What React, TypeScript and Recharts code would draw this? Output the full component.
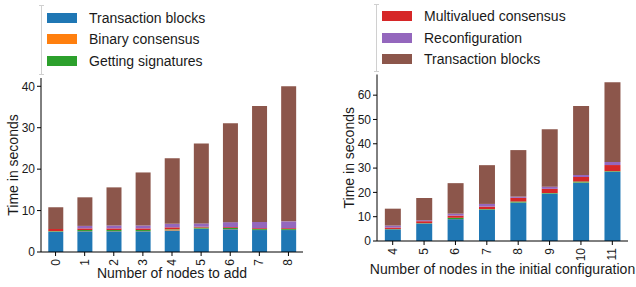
import { Bar, BarChart, Label, XAxis, YAxis } from "recharts";

// colours (matplotlib tab10)
const BLUE = "#1f77b4";
const ORANGE = "#ff7f0e";
const GREEN = "#2ca02c";
const RED = "#d62728";
const PURPLE = "#9467bd";
const BROWN = "#8c564b";

// left chart: adding nodes
const addCategories = ["0", "1", "2", "3", "4", "5", "6", "7", "8"];
const addTxBlocks = [4.9, 5.0, 5.0, 5.0, 5.2, 5.6, 5.5, 5.3, 5.3];
const addBinary = [0.05, 0.05, 0.05, 0.05, 0.2, 0.05, 0.05, 0.05, 0.05];
const addSignatures = [0.1, 0.25, 0.25, 0.25, 0.1, 0.25, 0.25, 0.2, 0.2];
const addMultivalued = [0.5, 0.4, 0.4, 0.4, 0.45, 0.2, 0.2, 0.2, 0.2];
const addReconfig = [0, 0.6, 0.7, 0.7, 0.85, 0.8, 1.2, 1.5, 1.65];
const addTxBlocksTop = [5.25, 6.9, 9.2, 12.8, 15.8, 19.3, 23.9, 28.0, 32.6];
const addTicks = [0, 10, 20, 30, 40];

// right chart: initial configuration size
const initCategories = ["4", "5", "6", "7", "8", "9", "10", "11"];
const initTxBlocks = [4.8, 7.2, 9.0, 12.9, 15.8, 19.5, 24.0, 28.5];
const initBinary = [0.05, 0.05, 0.05, 0.05, 0.05, 0.05, 0.05, 0.05];
const initSignatures = [0.1, 0.1, 0.5, 0.2, 0.4, 0.2, 0.4, 0.2];
const initMultivalued = [0.6, 0.8, 0.9, 1.0, 1.5, 1.7, 1.9, 2.5];
const initReconfig = [0.8, 0.4, 0.8, 1.1, 0.5, 0.9, 0.8, 1.3];
const initTxBlocksTop = [6.95, 9.15, 12.55, 15.95, 19.15, 23.65, 28.35, 32.75];
const initTicks = [0, 10, 20, 30, 40, 50, 60];

const leftLegend = [
  { name: "Transaction blocks", color: BLUE },
  { name: "Binary consensus", color: ORANGE },
  { name: "Getting signatures", color: GREEN },
];
const rightLegend = [
  { name: "Multivalued consensus", color: RED },
  { name: "Reconfiguration", color: PURPLE },
  { name: "Transaction blocks", color: BROWN },
];

const FONT = "'Liberation Sans', Arial, Helvetica, sans-serif";
const TEXT = "#1a1a1a";

const buildRows = (
  cats: string[],
  a: number[],
  b: number[],
  c: number[],
  d: number[],
  e: number[],
  f: number[],
) =>
  cats.map((label, i) => ({
    label,
    tx: a[i],
    binary: b[i],
    sigs: c[i],
    multi: d[i],
    reconfig: e[i],
    txTop: f[i],
  }));

const RotatedTick = (props: any) => {
  const { x, y, payload } = props;
  return (
    <text
      transform={`translate(${x},${y + 1}) rotate(-90)`}
      textAnchor="end"
      dominantBaseline="central"
      fontSize={12}
      fill={TEXT}
      fontFamily={FONT}
    >
      {payload.value}
    </text>
  );
};

const yLabel = (dx: number) => (props: any) => {
  const vb = props.viewBox;
  const cx = vb.x + dx;
  const cy = vb.y + vb.height / 2;
  return (
    <text
      x={cx}
      y={cy}
      transform={`rotate(-90, ${cx}, ${cy})`}
      textAnchor="middle"
      dominantBaseline="central"
      fontSize={14}
      fill={TEXT}
      fontFamily={FONT}
    >
      Time in seconds
    </text>
  );
};

const xLabel = (text: string, dy: number) => (props: any) => {
  const vb = props.viewBox;
  return (
    <text
      x={vb.x + vb.width / 2}
      y={vb.y + dy}
      textAnchor="middle"
      dominantBaseline="central"
      fontSize={14}
      fill={TEXT}
      fontFamily={FONT}
    >
      {text}
    </text>
  );
};

interface LegendItem {
  name: string;
  color: string;
}

const LegendBox = ({
  items,
  left,
  top,
  bracketX,
  bracketTop,
  bracketBottom,
}: {
  items: LegendItem[];
  left: number;
  top: number;
  bracketX: number;
  bracketTop: number;
  bracketBottom: number;
}) => (
  <>
    <div
      style={{
        position: "absolute",
        left: bracketX,
        top: bracketTop,
        width: 1,
        height: bracketBottom - bracketTop,
        background: "#d0d0d0",
      }}
    />
    <div style={{ position: "absolute", left: bracketX - 2, top: bracketTop, width: 5, height: 1, background: "#d0d0d0" }} />
    <div style={{ position: "absolute", left: bracketX - 2, top: bracketBottom, width: 5, height: 1, background: "#d0d0d0" }} />
    {items.map((item, i) => (
      <div
        key={item.name + i}
        style={{
          position: "absolute",
          left,
          top: top + i * 21.5 - 8,
          height: 16,
          display: "flex",
          alignItems: "center",
          whiteSpace: "nowrap",
        }}
      >
        <div style={{ width: 30, height: 10, background: item.color }} />
        <span style={{ marginLeft: 12, fontSize: 14, color: TEXT, fontFamily: FONT }}>
          {item.name}
        </span>
      </div>
    ))}
  </>
);

const StackBars = () => [
  <Bar key="tx" dataKey="tx" stackId="a" fill={BLUE} isAnimationActive={false} />,
  <Bar key="binary" dataKey="binary" stackId="a" fill={ORANGE} isAnimationActive={false} />,
  <Bar key="sigs" dataKey="sigs" stackId="a" fill={GREEN} isAnimationActive={false} />,
  <Bar key="multi" dataKey="multi" stackId="a" fill={RED} isAnimationActive={false} />,
  <Bar key="reconfig" dataKey="reconfig" stackId="a" fill={PURPLE} isAnimationActive={false} />,
  <Bar key="txTop" dataKey="txTop" stackId="a" fill={BROWN} isAnimationActive={false} />,
];

export default function App() {
  const leftRows = buildRows(addCategories, addTxBlocks, addBinary, addSignatures, addMultivalued, addReconfig, addTxBlocksTop);
  const rightRows = buildRows(initCategories, initTxBlocks, initBinary, initSignatures, initMultivalued, initReconfig, initTxBlocksTop);
  const tickStyle = { fontSize: 12, fill: TEXT, fontFamily: FONT };

  return (
    <div
      style={{
        position: "fixed",
        left: 0,
        top: 0,
        width: 636,
        height: 287,
        background: "#fff",
        overflow: "hidden",
        fontFamily: FONT,
      }}
    >
      <div style={{ position: "absolute", left: 0, top: 0 }}>
        <BarChart
          width={320}
          height={287}
          data={leftRows}
          margin={{ top: 78, right: 17, bottom: 0, left: 0 }}
          barCategoryGap="25%"
        >
          <XAxis
            dataKey="label"
            height={35}
            tick={<RotatedTick />}
            tickSize={4}
            interval={0}
            axisLine={{ stroke: "#000" }}
            tickLine={{ stroke: "#000" }}
          >
            <Label content={xLabel("Number of nodes to add", 21)} />
          </XAxis>
          <XAxis xAxisId="top" orientation="top" dataKey="label" height={0} tick={false} tickLine={false} axisLine={{ stroke: "#000" }} />
          <YAxis
            width={41}
            domain={[0, 42]}
            ticks={addTicks}
            tick={tickStyle}
            tickSize={4}
            tickMargin={2}
            axisLine={{ stroke: "#000" }}
            tickLine={{ stroke: "#000" }}
          >
            <Label content={yLabel(13)} />
          </YAxis>
          <YAxis yAxisId="right" orientation="right" width={0} tick={false} tickLine={false} axisLine={{ stroke: "#000" }} />
          {StackBars()}
        </BarChart>
      </div>
      <div style={{ position: "absolute", left: 320, top: 0 }}>
        <BarChart
          width={316}
          height={287}
          data={rightRows}
          margin={{ top: 74.5, right: 8, bottom: 0, left: 0 }}
          barCategoryGap="25%"
        >
          <XAxis
            dataKey="label"
            height={46}
            tick={<RotatedTick />}
            tickSize={4}
            interval={0}
            axisLine={{ stroke: "#000" }}
            tickLine={{ stroke: "#000" }}
          >
            <Label content={xLabel("Number of nodes in the initial configuration", 28)} />
          </XAxis>
          <XAxis xAxisId="top" orientation="top" dataKey="label" height={0} tick={false} tickLine={false} axisLine={{ stroke: "#000" }} />
          <YAxis
            width={57}
            domain={[0, 68.5]}
            ticks={initTicks}
            tick={tickStyle}
            tickSize={4}
            tickMargin={2}
            axisLine={{ stroke: "#000" }}
            tickLine={{ stroke: "#000" }}
          >
            <Label content={yLabel(29)} />
          </YAxis>
          <YAxis yAxisId="right" orientation="right" width={0} tick={false} tickLine={false} axisLine={{ stroke: "#000" }} />
          {StackBars()}
        </BarChart>
      </div>
      <LegendBox items={leftLegend} left={47} top={17.5} bracketX={41} bracketTop={5} bracketBottom={74} />
      <LegendBox items={rightLegend} left={382} top={16} bracketX={376} bracketTop={4} bracketBottom={71} />
    </div>
  );
}
